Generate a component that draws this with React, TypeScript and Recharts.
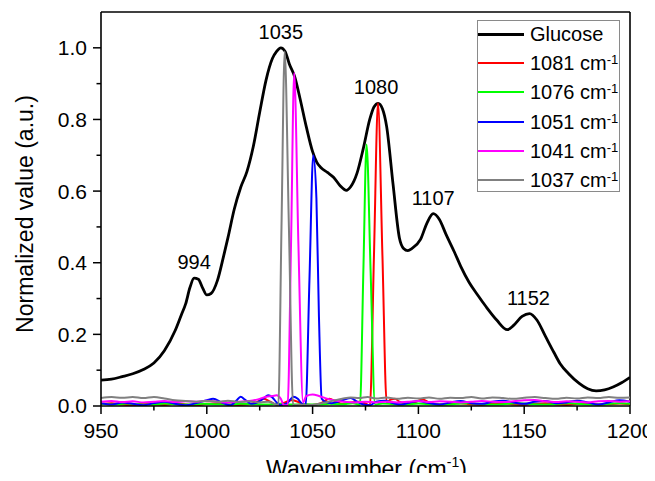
import React from 'react';
import { Legend, Line, LineChart, ReferenceDot, ReferenceLine, XAxis, YAxis } from 'recharts';

type Pt = [number, number];

// [wavenumber (cm-1), normalized value]
const glucose: Pt[] = [
  [950, 0.072], [955, 0.075], [960, 0.082], [965, 0.09], [970, 0.102], [975, 0.12],
  [980, 0.155], [985, 0.21], [988, 0.255], [990, 0.285], [992, 0.33], [994, 0.357],
  [996, 0.354], [998, 0.33], [1000, 0.31], [1002, 0.314], [1005, 0.35], [1008, 0.42],
  [1010, 0.47], [1013, 0.55], [1016, 0.61], [1019, 0.655], [1022, 0.725], [1025, 0.82],
  [1028, 0.91], [1031, 0.97], [1033, 0.99], [1035, 1.0], [1037, 0.99], [1039, 0.955],
  [1041.5, 0.92], [1044, 0.86], [1047, 0.78], [1050, 0.71], [1052, 0.68], [1054, 0.665],
  [1057, 0.652], [1060, 0.638], [1063, 0.615], [1066, 0.602], [1068, 0.612], [1071, 0.65],
  [1074, 0.72], [1077, 0.8], [1079, 0.835], [1081, 0.845], [1083, 0.83], [1085, 0.78],
  [1088, 0.62], [1091, 0.47], [1093, 0.44], [1095, 0.434], [1097, 0.44], [1101, 0.465],
  [1104, 0.51], [1107, 0.537], [1110, 0.52], [1113, 0.48], [1117, 0.43], [1120, 0.39],
  [1124, 0.345], [1128, 0.31], [1132, 0.277], [1137, 0.24], [1142, 0.213], [1145, 0.225],
  [1149, 0.25], [1152.5, 0.258], [1156, 0.24], [1160, 0.195], [1164, 0.15], [1167, 0.118],
  [1171, 0.09], [1176, 0.063], [1180, 0.048], [1184, 0.042], [1188, 0.045], [1192, 0.053],
  [1196, 0.065], [1200, 0.08],
];

const band1081: Pt[] = [
  [950, 0.005], [955, 0.008], [960, 0.004], [965, 0.002], [970, 0.006], [975, 0.004],
  [980, 0.003], [985, 0.007], [990, 0.004], [995, 0.002], [1000, 0.006], [1005, 0.008],
  [1010, 0.004], [1015, 0.003], [1020, 0.005], [1024, 0.012], [1027, 0.02], [1030, 0.012],
  [1033, 0.004], [1037, 0.01], [1040, 0.016], [1043, 0.012], [1046, 0.004], [1050, 0.003],
  [1054, 0.008], [1058, 0.02], [1061, 0.012], [1064, 0.006], [1068, 0.01], [1072, 0.012],
  [1075, 0.007], [1077.1, 0.002], [1079, 0.42], [1080.9, 0.845], [1083, 0.42], [1085, 0.01],
  [1087, 0.018], [1089, 0.02], [1091, 0.012], [1095, 0.006], [1099, 0.012], [1102, 0.018],
  [1105, 0.01], [1110, 0.004], [1115, 0.006], [1120, 0.008], [1125, 0.004], [1130, 0.003],
  [1135, 0.006], [1140, 0.008], [1145, 0.004], [1150, 0.003], [1155, 0.006], [1160, 0.008],
  [1165, 0.004], [1170, 0.003], [1175, 0.006], [1180, 0.008], [1185, 0.004], [1190, 0.005],
  [1195, 0.007], [1200, 0.005],
];

const band1076: Pt[] = [
  [950, 0.006], [956, 0.004], [962, 0.007], [968, 0.005], [974, 0.004], [980, 0.007],
  [986, 0.005], [992, 0.004], [998, 0.006], [1004, 0.005], [1010, 0.004], [1016, 0.006],
  [1022, 0.005], [1028, 0.004], [1034, 0.006], [1040, 0.004], [1046, 0.005], [1052, 0.004],
  [1058, 0.006], [1064, 0.005], [1069, 0.008], [1072.4, 0.003], [1074, 0.38], [1075.5, 0.73],
  [1077.4, 0.38], [1079.5, 0.004], [1083, 0.007], [1088, 0.005], [1094, 0.004], [1100, 0.007],
  [1106, 0.005], [1112, 0.004], [1118, 0.006], [1124, 0.008], [1130, 0.005], [1136, 0.004],
  [1142, 0.006], [1148, 0.008], [1154, 0.005], [1160, 0.004], [1166, 0.006], [1172, 0.008],
  [1178, 0.005], [1184, 0.004], [1190, 0.006], [1196, 0.008], [1200, 0.006],
];

const band1051: Pt[] = [
  [950, 0.008], [955, 0.004], [960, 0.01], [965, 0.006], [970, 0.002], [975, 0.008],
  [980, 0.012], [985, 0.006], [990, 0.002], [995, 0.008], [1000, 0.016], [1003, 0.02],
  [1007, 0.01], [1011, 0.002], [1014, 0.015], [1016, 0.026], [1018, 0.018], [1021, 0.006],
  [1024, 0.01], [1027, 0.022], [1029, 0.03], [1031, 0.024], [1033, 0.01], [1035, 0.002],
  [1038, 0.008], [1041, 0.026], [1043, 0.02], [1045, 0.006], [1046.7, 0.002], [1048.5, 0.35],
  [1050.3, 0.7], [1051.8, 0.58], [1053, 0.25], [1054.3, 0.02], [1056, 0.012], [1059, 0.008],
  [1062, 0.012], [1065, 0.018], [1068, 0.022], [1071, 0.012], [1074, 0.004], [1077, 0.002],
  [1080, 0.012], [1084, 0.015], [1088, 0.008], [1092, 0.004], [1096, 0.01], [1100, 0.014],
  [1105, 0.008], [1110, 0.004], [1115, 0.01], [1120, 0.014], [1125, 0.008], [1130, 0.006],
  [1135, 0.012], [1140, 0.015], [1145, 0.01], [1150, 0.006], [1155, 0.012], [1160, 0.014],
  [1165, 0.008], [1170, 0.01], [1175, 0.015], [1180, 0.01], [1185, 0.004], [1190, 0.01],
  [1195, 0.016], [1200, 0.012],
];

const band1041: Pt[] = [
  [950, 0.012], [955, 0.014], [960, 0.011], [965, 0.013], [970, 0.01], [975, 0.012],
  [980, 0.014], [985, 0.011], [990, 0.013], [995, 0.012], [1000, 0.015], [1005, 0.012],
  [1010, 0.01], [1015, 0.012], [1020, 0.014], [1025, 0.02], [1028, 0.026], [1031, 0.028],
  [1033, 0.03], [1035, 0.02], [1036.5, 0.002], [1038.2, 0.002], [1039.8, 0.45], [1041.3, 0.93],
  [1043.3, 0.45], [1045.5, 0.01], [1047, 0.028], [1050, 0.032], [1053, 0.028], [1056, 0.022],
  [1060, 0.016], [1065, 0.012], [1070, 0.01], [1075, 0.012], [1080, 0.01], [1085, 0.012],
  [1090, 0.01], [1095, 0.012], [1100, 0.014], [1105, 0.011], [1110, 0.013], [1115, 0.012],
  [1120, 0.01], [1125, 0.012], [1130, 0.014], [1135, 0.012], [1140, 0.011], [1145, 0.013],
  [1150, 0.016], [1155, 0.017], [1160, 0.013], [1165, 0.011], [1170, 0.013], [1175, 0.012],
  [1180, 0.01], [1185, 0.013], [1190, 0.014], [1195, 0.012], [1200, 0.013],
];

const band1037: Pt[] = [
  [950, 0.022], [955, 0.025], [960, 0.023], [965, 0.025], [970, 0.022], [975, 0.025],
  [980, 0.021], [985, 0.016], [990, 0.014], [995, 0.012], [1000, 0.014], [1005, 0.012],
  [1010, 0.015], [1015, 0.011], [1020, 0.013], [1025, 0.01], [1029, 0.012], [1032, 0.006],
  [1033.8, 0.002], [1035.3, 0.5], [1036.8, 0.99], [1038.8, 0.5], [1040.8, 0.002], [1044, 0.004],
  [1048, 0.002], [1052, 0.005], [1056, 0.01], [1060, 0.015], [1064, 0.02], [1068, 0.024],
  [1072, 0.022], [1076, 0.025], [1080, 0.021], [1085, 0.024], [1090, 0.02], [1095, 0.023],
  [1100, 0.021], [1105, 0.024], [1110, 0.02], [1115, 0.023], [1120, 0.022], [1125, 0.025],
  [1130, 0.021], [1135, 0.024], [1140, 0.022], [1145, 0.02], [1150, 0.023], [1155, 0.025],
  [1160, 0.022], [1165, 0.02], [1170, 0.023], [1175, 0.021], [1180, 0.024], [1185, 0.022],
  [1190, 0.025], [1195, 0.023], [1200, 0.024],
];

// peak annotations: [wavenumber, peak height]
const peaks: Pt[] = [[994, 0.357], [1035, 1.0], [1080, 0.845], [1107, 0.537], [1152, 0.258]];

const xTicks = [950, 1000, 1050, 1100, 1150, 1200];
const xMinorTicks = [975, 1025, 1075, 1125, 1175];
const yTicks = [0, 0.2, 0.4, 0.6, 0.8, 1.0];
const yMinorTicks = [0.1, 0.3, 0.5, 0.7, 0.9];
const xDomain: Pt = [950, 1200];
const yDomain: Pt = [0, 1.1];

const font = '"Liberation Sans", Arial, Helvetica, sans-serif';

const toRows = (pts: Pt[]) => pts.map(([w, v]) => ({ w, v }));

const lines = [
  { id: 'glucose', name: 'Glucose', unit: false, data: glucose, color: '#000000', width: 2.8 },
  { id: 'b1081', name: '1081', unit: true, data: band1081, color: '#ff0000', width: 2 },
  { id: 'b1076', name: '1076', unit: true, data: band1076, color: '#00ff00', width: 2 },
  { id: 'b1051', name: '1051', unit: true, data: band1051, color: '#0000ff', width: 2 },
  { id: 'b1041', name: '1041', unit: true, data: band1041, color: '#ff00ff', width: 2 },
  { id: 'b1037', name: '1037', unit: true, data: band1037, color: '#808080', width: 2 },
];

const XTick = (props: any) => {
  const { x, y, payload } = props;
  const axisY = y - 17;
  const major = xTicks.includes(payload.value);
  return (
    <g>
      <line x1={x} x2={x} y1={axisY} y2={axisY + (major ? 8 : 4.5)} stroke="#000" strokeWidth={1.5} />
      {major && (
        <text x={x} y={y} dy="0.71em" textAnchor="middle" fontSize={21} fontFamily={font} fill="#000">
          {payload.value}
        </text>
      )}
    </g>
  );
};

const YTick = (props: any) => {
  const { x, y, payload } = props;
  const axisX = x + 14;
  const major = yTicks.includes(payload.value);
  return (
    <g>
      <line x1={axisX - (major ? 8 : 4.5)} x2={axisX} y1={y} y2={y} stroke="#000" strokeWidth={1.5} />
      {major && (
        <text x={x} y={y} dy="0.355em" textAnchor="end" fontSize={21} fontFamily={font} fill="#000">
          {payload.value.toFixed(1)}
        </text>
      )}
    </g>
  );
};

const XTitle = (props: any) => {
  const vb = props.viewBox ?? { x: 101, y: 406, width: 529, height: 75 };
  const cx = vb.x + vb.width / 2 + 1;
  const by = vb.y + 70.5;
  return (
    <text x={cx} y={by} textAnchor="middle" fontSize={23} fontFamily={font} fill="#000">
      Wavenumber (cm
      <tspan fontSize={14} dy={-10}>-1</tspan>
      <tspan dy={10}>)</tspan>
    </text>
  );
};

const YTitle = (props: any) => {
  const vb = props.viewBox ?? { x: 0, y: 12, width: 101, height: 394 };
  const bx = vb.x + 33.3;
  const cy = vb.y + vb.height / 2 + 5;
  return (
    <text
      x={bx}
      y={cy}
      transform={`rotate(-90, ${bx}, ${cy})`}
      textAnchor="middle"
      fontSize={23}
      fontFamily={font}
      fill="#000"
    >
      Normalized value (a.u.)
    </text>
  );
};

const LegendBox = () => (
  <div
    style={{
      boxSizing: 'border-box',
      width: 143,
      height: 172,
      border: '1px solid #8a8a8a',
      background: '#fff',
      fontFamily: font,
      fontSize: 20,
      color: '#000',
      overflow: 'hidden',
    }}
  >
    <div style={{ position: 'relative', top: -1.6 }}>
      {lines.map(l => (
        <div key={l.id} style={{ display: 'flex', alignItems: 'center', height: 29.2 }}>
          <div style={{ width: 46, height: l.id === 'glucose' ? 3 : 2, background: l.color, marginLeft: 0.3 }} />
          <span style={{ marginLeft: 6, whiteSpace: 'nowrap', lineHeight: '20px' }}>
            {l.name}
            {l.unit && (
              <>
                {' cm'}
                <sup style={{ fontSize: 13, lineHeight: 0, verticalAlign: '0.5em' }}>-1</sup>
              </>
            )}
          </span>
        </div>
      ))}
    </div>
  </div>
);

export default function App() {
  return (
    <div style={{ margin: -8, width: 655, height: 481 }}>
      <LineChart width={655} height={481} margin={{ top: 12, right: 25, bottom: 0, left: 0 }}>
        <XAxis
          dataKey="w"
          type="number"
          domain={xDomain}
          allowDataOverflow
          ticks={[...xTicks, ...xMinorTicks].sort((a, b) => a - b)}
          interval={0}
          height={75}
          tickSize={0}
          tickMargin={17}
          tickLine={false}
          tick={<XTick />}
          axisLine={{ stroke: '#000', strokeWidth: 1.6 }}
          label={<XTitle />}
        />
        <YAxis
          type="number"
          domain={yDomain}
          allowDataOverflow
          ticks={[...yTicks, ...yMinorTicks].sort((a, b) => a - b)}
          interval={0}
          width={101}
          tickSize={0}
          tickMargin={14}
          tickLine={false}
          tick={<YTick />}
          axisLine={{ stroke: '#000', strokeWidth: 1.6 }}
          label={<YTitle />}
        />
        {/* top and right frame */}
        <ReferenceLine y={yDomain[1]} stroke="#000" strokeWidth={1.6} />
        <ReferenceLine x={xDomain[1]} stroke="#000" strokeWidth={1.6} />
        {lines.map(l => (
          <Line
            key={l.id}
            data={toRows(l.data)}
            dataKey="v"
            name={l.name}
            type="monotone"
            stroke={l.color}
            strokeWidth={l.width}
            dot={false}
            activeDot={false}
            isAnimationActive={false}
          />
        ))}
        {peaks.map(([w, v]) => (
          <ReferenceDot
            key={w}
            x={w}
            y={v}
            r={0}
            fill="none"
            stroke="none"
            label={{ value: String(w), position: 'top', offset: 9, fontSize: 20, fontFamily: font, fill: '#000' }}
          />
        ))}
        <Legend
          layout="vertical"
          align="center"
          verticalAlign="middle"
          content={<LegendBox />}
          wrapperStyle={{ left: 476.7, top: 20, width: 143, height: 172 }}
        />
      </LineChart>
    </div>
  );
}
